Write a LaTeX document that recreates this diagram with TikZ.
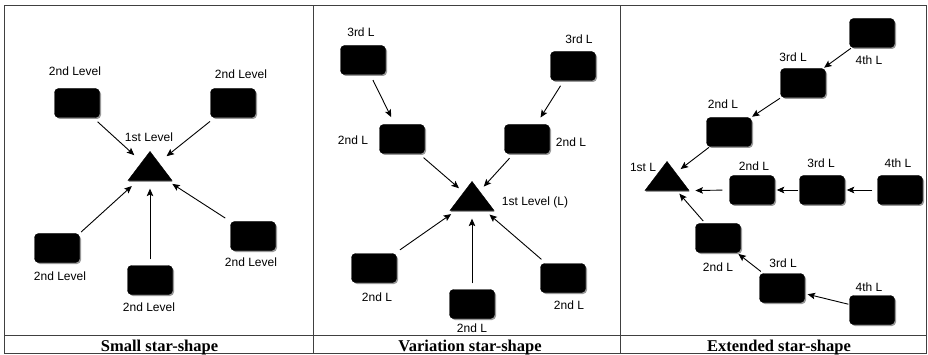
\documentclass[tikz,border=0pt]{standalone}
\usepackage{fontspec}
\setmainfont{Liberation Sans}
\newfontfamily\capfont{Liberation Serif}
\usetikzlibrary{shapes.geometric, arrows.meta, positioning, shadows}
\tikzset{
    level/.style={
        rectangle, draw=black, fill=black, rounded corners=4pt,
        minimum width=45pt, minimum height=29pt, inner sep=0pt,
        drop shadow={shadow xshift=1.5pt, shadow yshift=-1.5pt, opacity=0.4, fill=black}
    },
    hub/.style={
        isosceles triangle, isosceles triangle stretches, shape border rotate=90,
        draw=black, fill=black, inner sep=0pt,
        minimum width=44pt, minimum height=29pt,
        drop shadow={shadow xshift=0.5pt, shadow yshift=-1.5pt, opacity=0.4, fill=black}
    },
    lbl/.style={font=\fontsize{12}{14}\selectfont, inner sep=0pt},
    link/.style={draw=black, line width=0.9pt, -{Stealth[length=7.5pt, width=6.5pt, inset=1.5pt]},
        shorten <=3pt, shorten >=3pt},
    caption/.style={font=\capfont\bfseries\fontsize{16.5}{18}\selectfont, inner sep=0pt, anchor=base},
    frame/.style={draw=black!75, line width=1pt}
}

\begin{document}
\begin{tikzpicture}[x=1pt, y=-1pt]
\useasboundingbox (0,0) rectangle (928,355);

% Frame and captions
\draw[frame] (4,6) rectangle (926.5,353);
\draw[frame] (313,6) -- (313,353);
\draw[frame] (620,6) -- (620,353);
\draw[frame] (4,335) -- (926.5,335);
\node[caption] (cap1) at (159.5,351) {Small star-shape};
\node[caption] (cap2) at (470,351) {Variation star-shape};
\node[caption] (cap3) at (779,351) {Extended star-shape};

% Small star-shape
\node[hub] (p1hub) at (150,169.5) {};
\node[level] (p1a) at (77,103) {};
\node[level] (p1b) at (233,103) {};
\node[level] (p1c) at (57,248) {};
\node[level] (p1d) at (150,280) {};
\node[level] (p1e) at (253,236) {};
\node[lbl] (p1lhub) at (149,137) {1st Level};
\node[lbl] (p1la) at (75,71) {2nd Level};
\node[lbl] (p1lb) at (241,74) {2nd Level};
\node[lbl] (p1lc) at (60,276) {2nd Level};
\node[lbl] (p1ld) at (149,307) {2nd Level};
\node[lbl] (p1le) at (251,262) {2nd Level};
\draw[link, shorten <=6pt, shorten >=10pt] (p1a) -- (p1hub);
\draw[link, shorten <=6pt, shorten >=10pt] (p1b) -- (p1hub);
\draw[link, shorten <=2pt, shorten >=8pt] (p1c.north east) -- (p1hub);
\draw[link, shorten <=6pt, shorten >=8pt] (p1d) -- (p1hub);
\draw[link, shorten <=6pt, shorten >=6pt] (p1e) -- (p1hub);

% Variation star-shape
\node[hub] (p2hub) at (472,199.5) {};
\node[level] (p2tl) at (363,60) {};
\node[level] (p2tr) at (573,66) {};
\node[level] (p2ml) at (402,139) {};
\node[level] (p2mr) at (527,139) {};
\node[level] (p2bl) at (374,268) {};
\node[level] (p2bb) at (472,304) {};
\node[level] (p2br) at (563,278) {};
\node[lbl] (p2lhub) at (535,202) {1st Level (L)};
\node[lbl] (p2ltl) at (361,32) {3rd L};
\node[lbl] (p2ltr) at (579,39) {3rd L};
\node[lbl] (p2lml) at (353,140) {2nd L};
\node[lbl] (p2lmr) at (571,142) {2nd L};
\node[lbl] (p2lbl) at (377,297) {2nd L};
\node[lbl] (p2lbb) at (472,328) {2nd L};
\node[lbl] (p2lbr) at (569,305) {2nd L};
\draw[link, shorten <=6pt, shorten >=8pt] (p2tl) -- (p2ml);
\draw[link, shorten <=6pt, shorten >=8pt] (p2tr) -- (p2mr);
\draw[link, shorten <=6pt, shorten >=6pt] (p2ml) -- (p2hub);
\draw[link, shorten <=6pt, shorten >=6pt] (p2mr) -- (p2hub);
\draw[link, shorten <=6pt, shorten >=6pt] (p2bl) -- (p2hub);
\draw[link, shorten <=6pt, shorten >=8pt] (p2bb) -- (p2hub);
\draw[link, shorten <=6pt, shorten >=6pt] (p2br) -- (p2hub);

% Extended star-shape
\node[hub] (p3hub) at (667,179.5) {};
\node[level] (p3u4) at (872,33) {};
\node[level] (p3u3) at (803,83) {};
\node[level] (p3u2) at (729,132) {};
\node[level] (p3r2) at (752,190) {};
\node[level] (p3r3) at (822,190) {};
\node[level] (p3r4) at (900,190) {};
\node[level] (p3d2) at (718,238) {};
\node[level] (p3d3) at (782,288) {};
\node[level] (p3d4) at (872,310) {};
\node[lbl] (p3lhub) at (643,167) {1st L};
\node[lbl] (p3lu4) at (869,60) {4th L};
\node[lbl] (p3lu3) at (793,57) {3rd L};
\node[lbl] (p3lu2) at (723,104) {2nd L};
\node[lbl] (p3lr2) at (754,166) {2nd L};
\node[lbl] (p3lr3) at (821,163) {3rd L};
\node[lbl] (p3lr4) at (898,163) {4th L};
\node[lbl] (p3ld2) at (718,267) {2nd L};
\node[lbl] (p3ld3) at (783,263) {3rd L};
\node[lbl] (p3ld4) at (869,287) {4th L};
\draw[link, shorten <=1pt, shorten >=1pt] (p3u4) -- (p3u3);
\draw[link, shorten <=1pt, shorten >=1pt] (p3u3) -- (p3u2);
\draw[link, shorten <=1pt, shorten >=6pt] (p3u2) -- (p3hub);
\draw[link, shorten <=5pt, shorten >=2pt] (p3r4) -- (p3r3);
\draw[link, shorten <=1pt, shorten >=2pt] (p3r3) -- (p3r2);
\draw[link, shorten <=7pt, shorten >=6pt] (p3r2.west) -- (p3hub.right corner);
\draw[link, shorten <=1pt, shorten >=3pt] (p3d4) -- (p3d3);
\draw[link, shorten <=3pt, shorten >=2pt] (p3d3) -- (p3d2);
\draw[link, shorten <=3pt, shorten >=4pt] (p3d2) -- (p3hub);

\end{tikzpicture}
\end{document}
